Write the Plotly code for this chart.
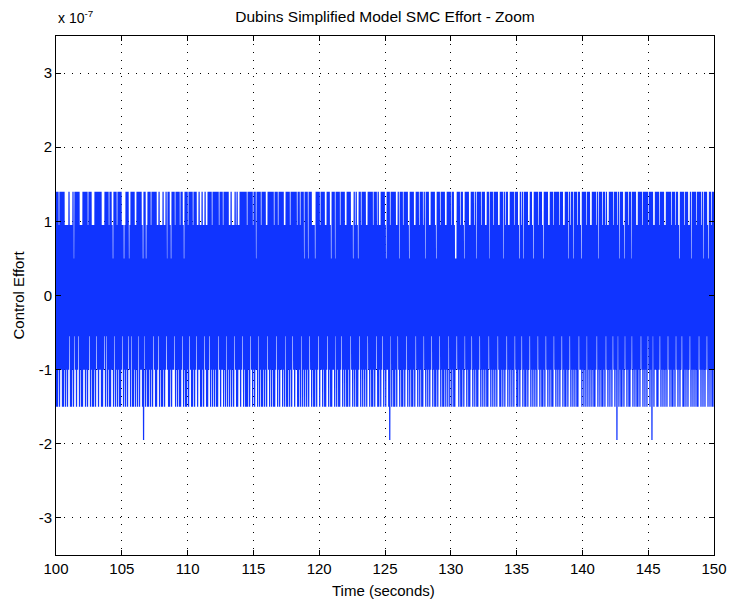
import plotly.graph_objects as go

# ---------------- data (units of 1e-7) ----------------
T_START, T_END = 100.0, 150.0
x_ticks = [100, 105, 110, 115, 120, 125, 130, 135, 140, 145, 150]
y_ticks = [-3, -2, -1, 0, 1, 2, 3]

# switching levels of the chattering control signal
top_levels = {"a": 1.40, "b": 0.95, "c": 0.50}
bottom_levels = {"a": -1.50, "b": -1.00, "c": -0.55, "d": -1.95}

# per-sample local maximum / minimum codes, read column by column
top_codes = "".join([
    "aaabaaaaabbbbabbbacaaaaabbbaaaaabaaabbbaaaaaaabbba",
    "aaabaabcaaabaaaabbcbaaacbaaaabbaaaaabcaacbaaabaaaa",
    "abbabbbabbacaabcaaabaaaabaabcaaabaaaabaaabbabbabba",
    "bbaaaabaaaaaabaaabaaaaabbabbbababbaaaaaaabaaaaabaa",
    "caaaabaaaabbaaaaaabaaabaaaaabbaaaabaaaaaabaabaaaca",
    "aacaaabbbcaaaabaaaabbaaabcaaacaaaabaaaabbaaaabbcab",
    "abcaabaaaabbaaaaabaaababbaaaabcaaabaaaaabbacaaabaa",
    "aabcaaaabbaaabaaabacaaabbaaaabcaaabaaaabbaaaabaabc",
    "caaabaabcaaaabbaaabacaaaabaaabbaacaaabaaaabbaaacab",
    "aabbaaaabaaabcabacaaaabbaabcaaaabaaabcaaaabbaaabaa",
    "aaabaaabbaaacabaacaaabaabcaaaabaaabbaaaabacaaabaab",
    "abbaaaabaaabacaaabcaaabaacaaaabbaaaabaaaaabaaaabba",
    "aaabaaaabbaaaaabaaabaabcaaaabaaabbacaaaabaaaabacaa",
    "abcaabaa",
])

bottom_codes = "".join([
    "aaba bbaa baba bcaa bacb abca baab baba bcab aaba cbab baab ca",
    "cabaa bbaca babaa bcaba bacba caaba bacab badca baaba bacba",
    "abcab aabab cbaab abbca babaa bcaba abacb aabab cabba abacb",
    "aabca babab aacba bbaba cabab abacb aabba bcaba aabac babab",
    "bacab aabab acbab abaab cabab babac aabab acbab baaba cabab",
    "abacb abaab abcab babaa bcaba abbac abaab cabab aabac babab",
    "aabca babab acbab aabab caaba bcaba bbadc abaab acbab aabab",
    "cabab aabac babab aacba babab cabaa babca baaba bacab abaab",
    "cbaba abacb abaab cabab aabca babab aacba babab acbaa babab",
    "cabab abacb aabab cabaa babca babab acbab aabac babab aacba",
    "babab cabaa babca babab aacbb ababa cabab abaab cabab aabac",
    "babab acbab dcaba abacb abaab cabab aabac babab acbab dcabb",
    "aabca babab acbab aabac babab caaba babca babab aacba babab",
    "cabab aab",
]).replace(" ", "")

# ---------------- build the zig-zag series ----------------
n = min(len(top_codes), len(bottom_codes))
step = (T_END - T_START) / (n - 0.5)
xs, ys = [], []
for i in range(n):
    xs.append(T_START + i * step)
    ys.append(top_levels[top_codes[i]])
    xs.append(T_START + (i + 0.5) * step)
    ys.append(bottom_levels[bottom_codes[i]])

FONT = "Liberation Sans, Arial, sans-serif"
W, H = 730, 601
ML, MR, MT, MB = 56, 16, 36, 46
PW, PH = W - ML - MR, H - MT - MB

fig = go.Figure()
fig.add_trace(go.Scatter(
    x=xs, y=ys, mode="lines",
    line=dict(color="#1034ff", width=1.25, simplify=False),
    hoverinfo="skip", showlegend=False,
))

axis_common = dict(
    showline=True, linecolor="black", linewidth=1, mirror="allticks",
    ticks="inside", ticklen=5, tickwidth=1, tickcolor="black",
    showgrid=True, gridcolor="black", gridwidth=1, griddash="1px,7px",
    zeroline=False, automargin=False,
    tickfont=dict(family=FONT, size=15, color="black"),
)

fig.update_layout(
    width=W, height=H,
    margin=dict(l=ML, r=MR, t=MT, b=MB, pad=0, autoexpand=False),
    paper_bgcolor="white", plot_bgcolor="white",
    title=dict(
        text="Dubins Simplified Model SMC Effort - Zoom",
        font=dict(family=FONT, size=15.5, color="black"),
        x=0.5, xref="paper", xanchor="center",
        y=1 - 17 / H, yref="container", yanchor="middle",
    ),
    xaxis=dict(range=[T_START, T_END], tickvals=x_ticks,
               ticktext=[str(v) for v in x_ticks], **axis_common),
    yaxis=dict(range=[-3.5, 3.5], tickvals=y_ticks,
               ticktext=[str(v) for v in y_ticks], **axis_common),
    annotations=[
        dict(text="Time (seconds)", xref="paper", yref="paper",
             x=(383 - ML) / PW, y=(H - MB - 590) / PH,
             xanchor="center", yanchor="middle", showarrow=False,
             font=dict(family=FONT, size=15, color="black")),
        dict(text="Control Effort", xref="paper", yref="paper",
             x=(18 - ML) / PW, y=0.5, textangle=-90,
             xanchor="center", yanchor="middle", showarrow=False,
             font=dict(family=FONT, size=15, color="black")),
        dict(text="x 10<sup>-7</sup>", xref="paper", yref="paper",
             x=0, y=1 + (MT - 28) / PH,
             xanchor="left", yanchor="bottom", showarrow=False,
             font=dict(family=FONT, size=14, color="black")),
    ],
)

fig.write_html("out.html")
